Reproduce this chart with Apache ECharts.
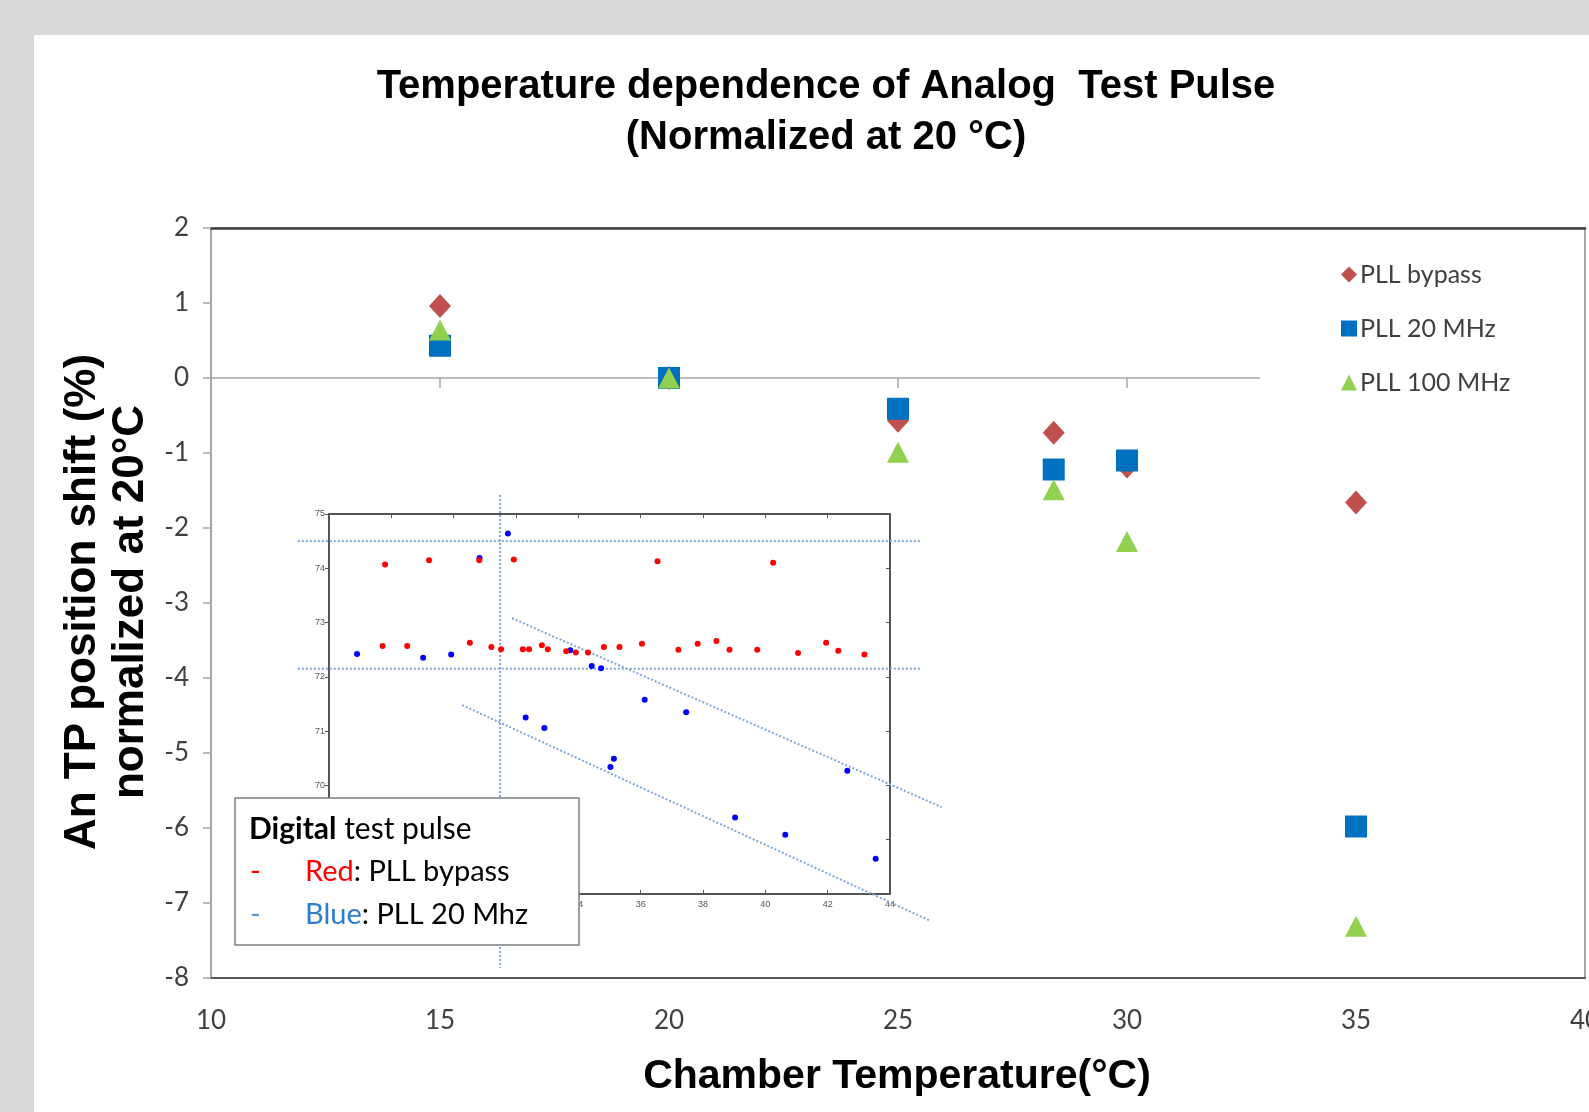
<!DOCTYPE html>
<html>
<head>
<meta charset="utf-8">
<title>Temperature dependence of Analog Test Pulse</title>
<script src="https://cdn.jsdelivr.net/npm/echarts@6/dist/echarts.min.js"></script>
<style>
	html, body { margin: 0; padding: 0; background: #d9d9d9; }
	#chart { width: 1589px; height: 1112px; }
</style>
</head>
<body>
<div id="chart"></div>
<script>
// main chart
const temps = [15, 20, 25, 28.4, 30, 35]
const pllBypass = [0.96, 0, -0.57, -0.73, -1.18, -1.66]
const pll20 = [0.43, 0, -0.41, -1.22, -1.1, -5.98]
const pll100 = [0.64, 0, -0.99, -1.49, -2.18, -7.31]
const seriesNames = ['PLL bypass', 'PLL 20 MHz', 'PLL 100 MHz']
const zeroLineX = [10, 32.9]
const zeroTicks = [15, 20, 25, 30]

// inset (digital test pulse scan)
const redX = [27.8, 29.21, 30.82, 31.93, 36.54, 40.25,
	27.72, 28.51, 30.52, 31.21, 31.52, 32.22, 32.42, 32.83, 33.02, 33.61, 33.92, 34.31,
	34.82, 35.32, 36.04, 37.21, 37.83, 38.43, 38.85, 39.74, 41.05, 41.95, 42.34, 43.18]
const redY = [74.07, 74.15, 74.15, 74.16, 74.13, 74.1,
	72.57, 72.57, 72.63, 72.55, 72.51, 72.51, 72.51, 72.58, 72.51, 72.47, 72.45, 72.45,
	72.55, 72.55, 72.61, 72.5, 72.61, 72.66, 72.5, 72.5, 72.44, 72.63, 72.48, 72.41]
const blueX = [26.9, 29.02, 29.92, 30.83, 31.74, 32.31, 32.91, 33.74, 34.43, 34.73,
	35.03, 35.14, 36.13, 37.46, 39.03, 40.64, 42.63, 43.54]
const blueY = [72.42, 72.35, 72.41, 74.19, 74.64, 71.25, 71.06, 72.49, 72.2, 72.16,
	70.34, 70.49, 71.58, 71.35, 69.41, 69.09, 70.27, 68.65]
// guide segments: [x1, y1, x2, y2]
const guides = [
	[25.0, 74.5, 44.96, 74.5],
	[25.0, 72.15, 44.96, 72.15],
	[31.49, 75.35, 31.49, 66.64],
	[31.87, 73.08, 45.66, 69.6],
	[30.27, 71.48, 45.28, 67.51]
]

const pairs = function(xs, ys) {
	return xs.map((x, i) => [x, ys[i]])
}

const renderGuide = function(params, api) {
	const p1 = api.coord([api.value(0), api.value(1)])
	const p2 = api.coord([api.value(2), api.value(3)])
	return {
		type: 'line',
		shape: { x1: p1[0], y1: p1[1], x2: p2[0], y2: p2[1] },
		style: { stroke: '#7fa7d9', lineWidth: 2, lineDash: [2, 2] }
	}
}

const tickFont = { fontFamily: 'Lato', fontSize: 26, color: '#404040' }
const boldFont = 'Liberation Sans'

const option = {
	animation: false,
	backgroundColor: '#d9d9d9',
	graphic: [
		{
			type: 'rect',
			z: -100,
			shape: { x: 34, y: 35, width: 1560, height: 1080 },
			style: { fill: '#ffffff' }
		},
		{
			type: 'text',
			x: 826,
			y: 112,
			style: {
				text: 'Temperature dependence of Analog  Test Pulse\n(Normalized at 20 °C)',
				font: 'bold 40px ' + boldFont,
				fill: '#000',
				align: 'center',
				verticalAlign: 'middle',
				lineHeight: 51
			}
		},
		{
			type: 'text',
			x: 107,
			y: 602,
			rotation: Math.PI / 2,
			style: {
				text: 'An TP position shift (%)\nnormalized at 20°C',
				font: 'bold 44px ' + boldFont,
				fill: '#000',
				align: 'center',
				verticalAlign: 'middle',
				lineHeight: 48
			}
		},
		{
			type: 'text',
			x: 897,
			y: 1077,
			style: {
				text: 'Chamber Temperature(°C)',
				font: 'bold 41px ' + boldFont,
				fill: '#000',
				align: 'center',
				verticalAlign: 'middle'
			}
		},
		{
			type: 'rect',
			z: 100,
			shape: { x: 235, y: 798, width: 344, height: 147 },
			style: { fill: '#ffffff', stroke: '#7f7f7f', lineWidth: 1.5 }
		},
		{
			type: 'text',
			z: 101,
			x: 249,
			y: 829,
			style: {
				text: '{b|Digital} test pulse',
				font: '30px Lato',
				fill: '#000',
				verticalAlign: 'middle',
				rich: { b: { fontFamily: 'Lato', fontSize: 30, fontWeight: 'bold', fill: '#000' } }
			}
		},
		{
			type: 'text',
			z: 101,
			x: 250,
			y: 872,
			style: {
				text: '{d|-}{r|Red}: PLL bypass',
				font: '29px Lato',
				fill: '#000',
				verticalAlign: 'middle',
				rich: {
					d: { fontFamily: 'Lato', fontSize: 29, fill: '#ff0000', width: 55 },
					r: { fontFamily: 'Lato', fontSize: 29, fill: '#ff0000' }
				}
			}
		},
		{
			type: 'text',
			z: 101,
			x: 250,
			y: 915,
			style: {
				text: '{d|-}{u|Blue}: PLL 20 Mhz',
				font: '29px Lato',
				fill: '#000',
				verticalAlign: 'middle',
				rich: {
					d: { fontFamily: 'Lato', fontSize: 29, fill: '#5b9bd5', width: 55 },
					u: { fontFamily: 'Lato', fontSize: 29, fill: '#2e7bcf' }
				}
			}
		}
	],
	legend: {
		data: seriesNames,
		orient: 'vertical',
		left: 1336,
		top: 257,
		itemGap: 29,
		itemWidth: 16,
		itemHeight: 16,
		itemStyle: { borderWidth: 0 },
		textStyle: { fontFamily: 'Lato', fontSize: 25, color: '#404040', padding: [0, 0, 0, -2] }
	},
	grid: [
		{
			left: 211, top: 228, width: 1374, height: 750,
			outerBoundsMode: 'none', show: true, borderColor: '#8c8c8c', borderWidth: 1.5
		},
		{ left: 329, top: 514, width: 561, height: 380, outerBoundsMode: 'none', show: false }
	],
	xAxis: [
		{
			type: 'value',
			gridIndex: 0,
			min: 10,
			max: 40,
			interval: 5,
			axisLine: { show: true, onZero: false, lineStyle: { color: '#595959', width: 2 } },
			axisTick: { show: false },
			splitLine: { show: false },
			axisLabel: Object.assign({ margin: 30 }, tickFont)
		},
		{
			type: 'value',
			gridIndex: 0,
			position: 'top',
			min: 10,
			max: 40,
			interval: 5,
			axisLine: { show: true, onZero: false, lineStyle: { color: '#404040', width: 2.5 } },
			axisTick: { show: false },
			axisLabel: { show: false },
			splitLine: { show: false }
		},
		{
			type: 'value',
			gridIndex: 1,
			min: 26,
			max: 44,
			interval: 2,
			axisLine: { show: true, onZero: false, lineStyle: { color: '#555555', width: 2 } },
			axisTick: { show: true, inside: true, length: 4, lineStyle: { color: '#555555' } },
			splitLine: { show: false },
			axisLabel: { fontSize: 9, color: '#555555', margin: 6 }
		},
		{
			type: 'value',
			gridIndex: 1,
			position: 'top',
			min: 26,
			max: 44,
			interval: 2,
			axisLine: { show: true, onZero: false, lineStyle: { color: '#555555', width: 2 } },
			axisTick: { show: true, inside: true, length: 4, lineStyle: { color: '#555555' } },
			axisLabel: { show: false },
			splitLine: { show: false }
		}
	],
	yAxis: [
		{
			type: 'value',
			gridIndex: 0,
			min: -8,
			max: 2,
			interval: 1,
			axisLine: { show: true, onZero: false, lineStyle: { color: '#a6a6a6', width: 2 } },
			axisTick: { show: true, length: 8, lineStyle: { color: '#a6a6a6', width: 1.5 } },
			splitLine: { show: false },
			axisLabel: Object.assign({ margin: 22 }, tickFont)
		},
		{
			type: 'value',
			gridIndex: 1,
			min: 68,
			max: 75,
			interval: 1,
			axisLine: { show: true, onZero: false, lineStyle: { color: '#555555', width: 2 } },
			axisTick: { show: true, length: 4, lineStyle: { color: '#555555' } },
			splitLine: { show: false },
			axisLabel: { fontSize: 9, color: '#555555', margin: 4 }
		},
		{
			type: 'value',
			gridIndex: 1,
			position: 'right',
			min: 68,
			max: 75,
			interval: 1,
			axisLine: { show: true, onZero: false, lineStyle: { color: '#555555', width: 2 } },
			axisTick: { show: true, inside: true, length: 4, lineStyle: { color: '#555555' } },
			axisLabel: { show: false },
			splitLine: { show: false }
		}
	],
	series: [
		{
			name: 'zero',
			type: 'line',
			data: zeroLineX.map(x => [x, 0]),
			symbol: 'none',
			silent: true,
			lineStyle: { color: '#a6a6a6', width: 1.5 },
			z: 1
		},
		{
			name: 'zeroTicks',
			type: 'scatter',
			data: zeroTicks.map(x => [x, 0]),
			symbol: 'rect',
			symbolSize: [1.5, 10],
			symbolOffset: [0, 5],
			silent: true,
			itemStyle: { color: '#a6a6a6', opacity: 1 },
			z: 1
		},
		{
			name: seriesNames[0],
			type: 'scatter',
			data: pairs(temps, pllBypass),
			symbol: 'diamond',
			symbolSize: [22, 24],
			itemStyle: { color: '#c0504d', opacity: 1 },
			z: 3
		},
		{
			name: seriesNames[1],
			type: 'scatter',
			data: pairs(temps, pll20),
			symbol: 'rect',
			symbolSize: 22,
			itemStyle: { color: '#0070c0', opacity: 1 },
			z: 4
		},
		{
			name: seriesNames[2],
			type: 'scatter',
			data: pairs(temps, pll100),
			symbol: 'triangle',
			symbolSize: [22, 21],
			itemStyle: { color: '#92d050', opacity: 1 },
			z: 5
		},
		{
			name: 'guides',
			type: 'custom',
			xAxisIndex: 2,
			yAxisIndex: 1,
			data: guides,
			encode: { x: [0, 2], y: [1, 3] },
			renderItem: renderGuide,
			clip: false,
			silent: true,
			z: 3
		},
		{
			name: 'Blue',
			type: 'scatter',
			xAxisIndex: 2,
			yAxisIndex: 1,
			data: pairs(blueX, blueY),
			symbolSize: 6,
			itemStyle: { color: '#0000ff', opacity: 1 },
			z: 4
		},
		{
			name: 'Red',
			type: 'scatter',
			xAxisIndex: 2,
			yAxisIndex: 1,
			data: pairs(redX, redY),
			symbolSize: 6,
			itemStyle: { color: '#ff0000', opacity: 1 },
			z: 4
		}
	]
}

const myChart = echarts.init(document.getElementById('chart'))
myChart.setOption(option)
</script>
</body>
</html>
